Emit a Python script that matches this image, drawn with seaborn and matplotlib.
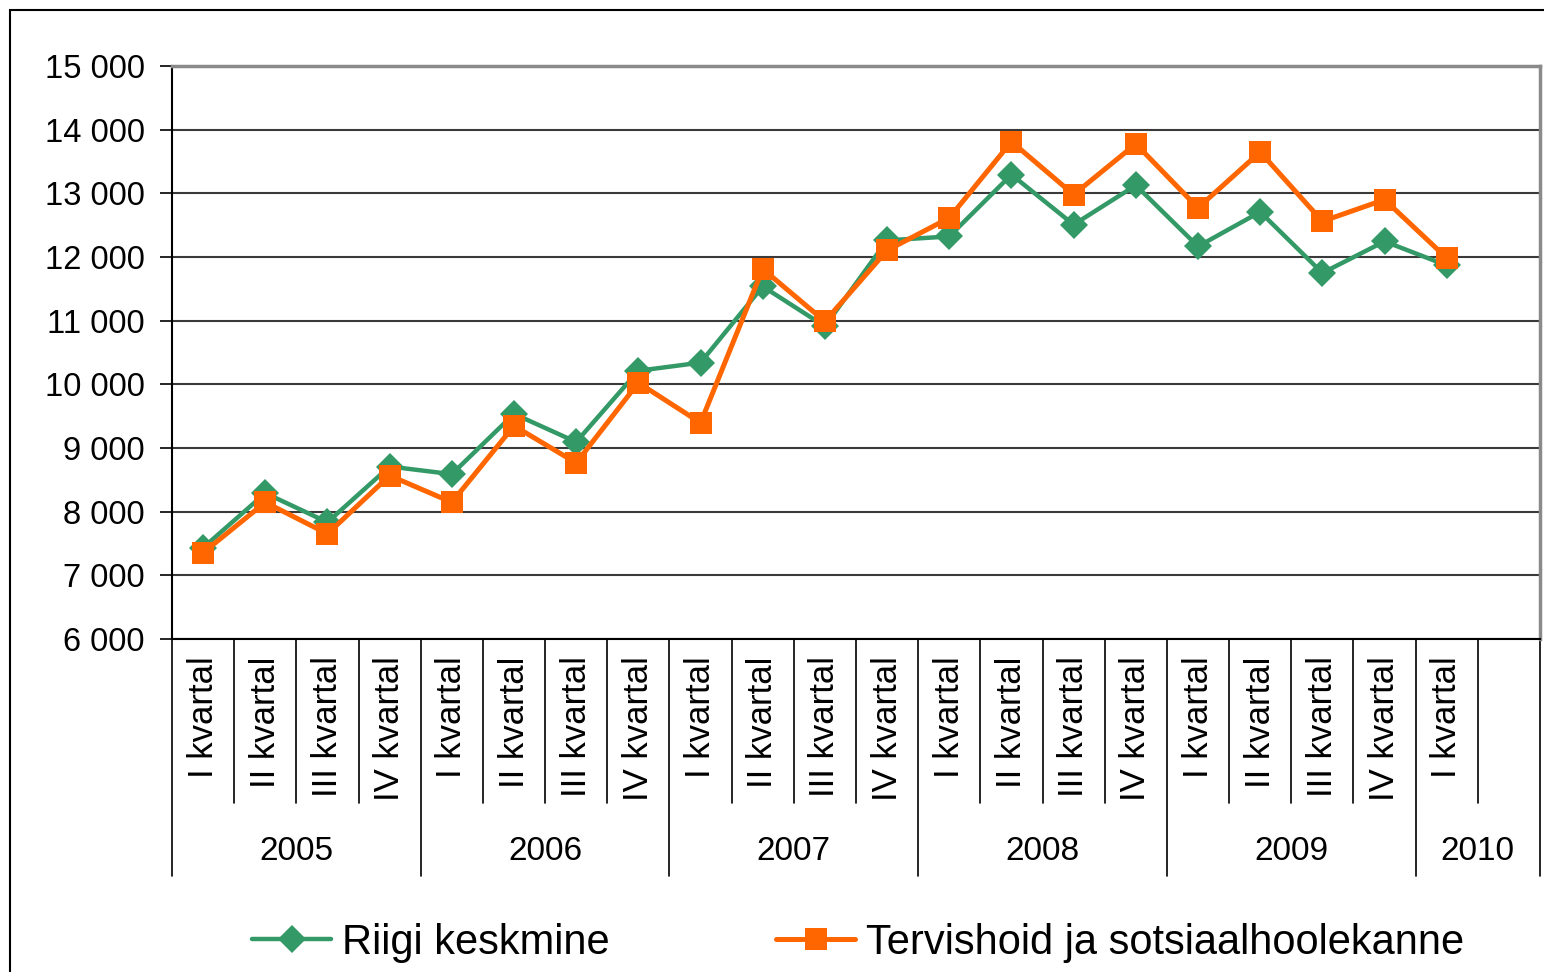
import seaborn as sns
import matplotlib.pyplot as plt
import pandas as pd
from matplotlib.lines import Line2D
from matplotlib.patches import Rectangle

# data
years = ['2005', '2006', '2007', '2008', '2009', '2010']
year_len = [4, 4, 4, 4, 4, 2]
quarters = ['I kvartal', 'II kvartal', 'III kvartal', 'IV kvartal'] * 5 + ['I kvartal', '']
riigi = [7433, 8291, 7834, 8709, 8589, 9536, 9094, 10213,
         10341, 11538, 10911, 12261, 12323, 13294, 12508, 13126,
         12166, 12708, 11749, 12245, 11868]
tervis = [7355, 8147, 7652, 8567, 8147, 9348, 8766, 10025,
          9395, 11812, 10989, 12104, 12614, 13812, 12980, 13776,
          12771, 13650, 12560, 12901, 11984]
yticks = [6000, 7000, 8000, 9000, 10000, 11000, 12000, 13000, 14000, 15000]
labels = ['Riigi keskmine', 'Tervishoid ja sotsiaalhoolekanne']
colors = ['#339966', '#FF6600']

sns.set_style('white')
plt.rcParams['font.family'] = ['Liberation Sans', 'DejaVu Sans']
plt.rcParams['text.color'] = 'black'
plt.rcParams['ytick.color'] = 'black'
plt.rcParams['ytick.labelcolor'] = 'black'

df = pd.DataFrame({'pos': range(len(riigi)), 'riigi': riigi, 'tervis': tervis})

fig = plt.figure(figsize=(15.44, 9.72), dpi=100)
ax = fig.add_axes([172/1544, 1 - 639/972, (1540 - 172)/1544, (639 - 66)/972])

ax.yaxis.grid(True, color='#3a3a3a', linewidth=1.5)
ax.set_axisbelow(True)

sns.lineplot(data=df, x='pos', y='riigi', color=colors[0], marker='D', markersize=14.5,
             markeredgewidth=0, linewidth=3.2, ax=ax, legend=False, zorder=3)
sns.lineplot(data=df, x='pos', y='tervis', color=colors[1], marker='s', markersize=15.5,
             markeredgewidth=0, linewidth=3.6, ax=ax, legend=False, zorder=4)

n = len(quarters)
ax.set_xlim(-0.5, n - 0.5)
ax.set_ylim(yticks[0], yticks[-1])
ax.set_yticks(yticks)
ax.set_yticklabels([f'{v:,}'.replace(',', ' ') for v in yticks], fontsize=23.5, color='black')
ax.tick_params(axis='y', direction='out', length=8.5, width=1.2, color='black', pad=11, left=True)
ax.set_xticks([])
ax.set_xlabel('')
ax.set_ylabel('')

for s in ['left', 'bottom']:
    ax.spines[s].set_color('black')
    ax.spines[s].set_linewidth(1.5)
for s in ['top', 'right']:
    ax.spines[s].set_color('#8a8a8a')
    ax.spines[s].set_linewidth(2.5)

# category axis: quarter labels and separators
trans = ax.get_xaxis_transform()
for i, q in enumerate(quarters):
    ax.text(i, -0.03, q, rotation=90, ha='center', va='top', fontsize=25, color='black', transform=trans)
year_edges = [-0.5]
for k in year_len:
    year_edges.append(year_edges[-1] + k)
for b in range(n + 1):
    edge = b - 0.5
    low = -0.414 if edge in year_edges else -0.286
    ax.plot([edge, edge], [0, low], color='black', lw=1.2, transform=trans, clip_on=False)
for y, a, b in zip(years, year_edges[:-1], year_edges[1:]):
    ax.text((a + b) / 2, -0.37, y, ha='center', va='center', fontsize=24, color='black', transform=trans)

handles = [Line2D([], [], color=colors[0], marker='D', markersize=14.5, markeredgewidth=0, linewidth=3.2),
           Line2D([], [], color=colors[1], marker='s', markersize=15.5, markeredgewidth=0, linewidth=3.6)]
leg = fig.legend(handles, labels, loc='center', bbox_to_anchor=(858/1544, 1 - 943/972), ncol=2,
                 frameon=False, fontsize=30, handlelength=1.9, handletextpad=0.25, columnspacing=4.0)
for t in leg.get_texts():
    t.set_color('black')

# outer chart border
fig.add_artist(Rectangle((10/1544, -0.1), 1.2, 1 - 10/972 + 0.1, transform=fig.transFigure,
                         fill=False, edgecolor='black', linewidth=1.5))

fig.savefig('out.png', dpi=100)
